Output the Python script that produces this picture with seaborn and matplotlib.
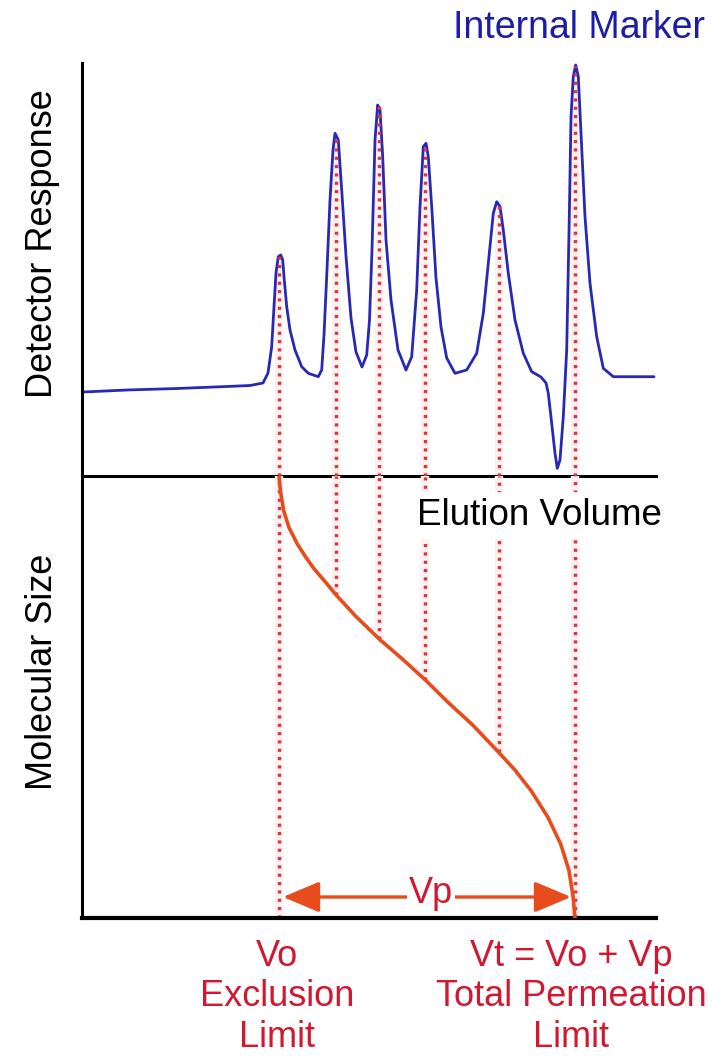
import matplotlib
matplotlib.use("Agg")
import matplotlib.pyplot as plt
import pandas as pd
import seaborn as sns

# ---------------- data ----------------
# chromatogram trace: elution volume (arbitrary units) vs detector response
elution_volume = [1, 45, 95, 145, 168, 181, 186, 189.7, 192, 194,
                  196.3, 198.7, 200.7, 202.3, 204.7, 208, 213, 219.7, 226.3, 236.3,
                  239.7, 242, 245, 248, 251, 253, 256.3, 259.7, 264, 269,
                  274, 280, 284.7, 287.5, 290, 293, 295.7, 298, 300.7, 304,
                  309, 316, 324, 329.7, 334.7, 338, 341.3, 344, 346.3, 349.7,
                  354, 359, 364.7, 373, 384.7, 394.7, 401.3, 406.3, 411.3, 414.7,
                  418, 421.3, 426.3, 433, 441.3, 449.7, 459, 464, 466.3, 469.7,
                  473, 475.3, 478, 481.3, 484.7, 487.3, 489, 491.3, 493.7, 496.3,
                  499, 503, 508, 514.7, 521.3, 531.3, 548, 572]
detector_response = [84, 86, 87.5, 89.5, 90.5, 93, 103, 129.3, 169.3, 203,
                     219.3, 221, 216, 196, 169.3, 146, 126, 109.3, 102.7, 99.3,
                     106, 141, 206, 276, 326, 342.7, 336, 286, 220, 158,
                     124, 109, 121, 156, 226, 336, 371, 366, 319.3, 236,
                     176, 126, 106, 119.3, 186, 269.3, 329.3, 332.7, 319.3, 269.3,
                     198, 149, 118, 102.7, 106, 122.7, 162.7, 212.7, 262.7, 274.3,
                     269.3, 246, 202.7, 156, 122.7, 104.3, 99, 93, 82.7, 52.7,
                     22.7, 7.7, 16, 59.3, 126, 259.3, 359.3, 399.3, 411, 399.3,
                     342.7, 259.3, 192.7, 139.3, 107.7, 99.3, 99.3, 99.3]

# peak apexes (Vo ... Vt) and where their guide lines stop in the lower panel
peak_volume = [197, 254, 297, 343, 417, 493]
peak_height = [220, 342, 370, 332, 274, 410]
peak_size_floor = [0, 323, 279, 238, 166, 0]

# calibration curve: molecular size vs elution volume
calib_volume = [197, 198.4, 201.7, 206.8, 215.1, 223.5, 231.8, 244.4, 254.8, 273.7,
                297.5, 319.7, 343.9, 365.7, 390.8, 415.9, 432.6, 449.3, 466, 478.6,
                486.9, 491.1, 493]
calib_size = [442, 427.2, 407.4, 390.9, 374.4, 361.2, 349.6, 334.8, 322.2, 301.8,
              278.7, 259.6, 237.5, 216, 192.9, 166.5, 148.4, 127, 100.6, 74.2,
              47.8, 21.4, 0]

top_label = "Detector Response"
bottom_label = "Molecular Size"
x_label = "Elution Volume"
marker_label = "Internal Marker"
vp_label = "Vp"
vo_label = "Vo\nExclusion\nLimit"
vt_label = "Vt = Vo + Vp\nTotal Permeation\nLimit"

# ---------------- styling ----------------
sns.set_theme(style="white")
plt.rcParams["font.family"] = ["Liberation Sans", "DejaVu Sans"]

BLUE = "#2828b8"
DARKBLUE = "#1c1ca6"
DOT = "#d8363f"
HALO = "#fdf0ee"
ORANGE = "#e84c1c"
RED = "#d01830"
FS = 26
DOTSTYLE = [(0, (0.9, 1.5))]

fig = plt.figure(figsize=(7.26, 10.62), dpi=100)
W, H = 726, 1062
ax_top = fig.add_axes([82 / W, 1 - 476 / H, 574 / W, 413 / H])
ax_bot = fig.add_axes([82 / W, 1 - 918 / H, 574 / W, 442 / H])

chrom = pd.DataFrame({"volume": elution_volume, "response": detector_response})
calib = pd.DataFrame({"volume": calib_volume, "size": calib_size})

# chromatogram panel
ax_top.vlines(peak_volume, 0, peak_height, colors=HALO, lw=6, zorder=1, clip_on=False)
sns.lineplot(data=chrom, x="volume", y="response", sort=False, estimator=None,
             color=BLUE, lw=2.0, ax=ax_top, zorder=2)
ax_top.vlines(peak_volume, 0, peak_height, colors=DOT, lw=2.5,
              linestyles=DOTSTYLE, zorder=3, clip_on=False)
ax_top.set_xlim(0, 574)
ax_top.set_ylim(0, 413)

# calibration panel
ax_bot.vlines(peak_volume, peak_size_floor, 442, colors=HALO, lw=6, zorder=1,
              clip_on=False)
ax_bot.vlines(peak_volume, peak_size_floor, 442, colors=DOT, lw=2.5,
              linestyles=DOTSTYLE, zorder=2, clip_on=False)
sns.lineplot(data=calib, x="volume", y="size", sort=False, estimator=None,
             color=ORANGE, lw=2.6, ax=ax_bot, zorder=3)
ax_bot.set_xlim(0, 574)
ax_bot.set_ylim(0, 442)

# Vp arrow
ax_bot.annotate("", xy=(peak_volume[-1] - 4, 21), xytext=(peak_volume[0] + 4, 21),
                arrowprops=dict(arrowstyle="<|-|>,head_length=0.9,head_width=0.38",
                                mutation_scale=25, color=ORANGE, lw=2.4,
                                shrinkA=0, shrinkB=0), zorder=4)
ax_bot.text(349, 15, vp_label, color=RED, fontsize=FS, ha="center", va="baseline",
            zorder=5, bbox=dict(boxstyle="square,pad=0.05", fc="white", ec="none"))

ax_bot.text(457, 393, x_label, color="black", fontsize=26.5, ha="center", va="baseline",
            zorder=5, clip_on=False,
            bbox=dict(boxstyle="square,pad=0.15", fc="white", ec="none"))

ax_top.text(497, 448, marker_label, color=DARKBLUE, fontsize=27, ha="center",
            va="center", clip_on=False)

ax_bot.text(195, -79, vo_label, color=RED, fontsize=FS, ha="center", va="center",
            multialignment="center", linespacing=1.2, clip_on=False)
ax_bot.text(489, -79, vt_label, color=RED, fontsize=FS, ha="center", va="center",
            multialignment="center", linespacing=1.2, clip_on=False)

for ax, lab, ly in ((ax_top, top_label, 0.562), (ax_bot, bottom_label, 0.557)):
    ax.set_xlabel("")
    ax.set_ylabel(lab, fontsize=FS, color="black", va="center")
    ax.yaxis.set_label_coords(-0.068, ly)
    ax.set_xticks([])
    ax.set_yticks([])
    ax.patch.set_alpha(0)
    for s in ("top", "right"):
        ax.spines[s].set_visible(False)
    ax.spines["left"].set_color("black")
    ax.spines["bottom"].set_color("black")
    ax.spines["left"].set_linewidth(2.2)
    ax.spines["bottom"].set_linewidth(2.2)
ax_bot.spines["bottom"].set_linewidth(3.0)

fig.savefig("out.png", dpi=100, facecolor="white")
